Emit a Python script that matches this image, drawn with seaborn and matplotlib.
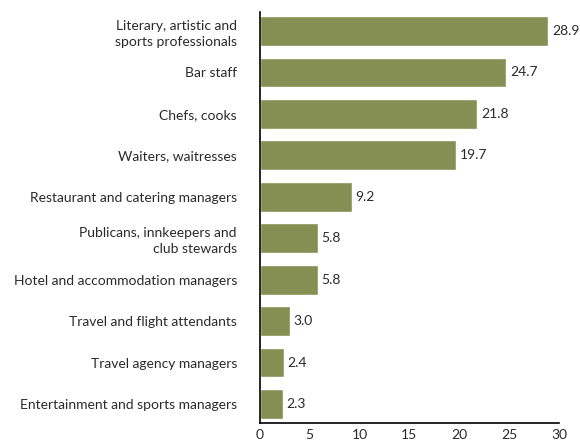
import pandas as pd
import matplotlib
matplotlib.use("Agg")
import matplotlib.pyplot as plt
import seaborn as sns

occupations = [
    "Literary, artistic and\nsports professionals",
    "Bar staff",
    "Chefs, cooks",
    "Waiters, waitresses",
    "Restaurant and catering managers",
    "Publicans, innkeepers and\nclub stewards",
    "Hotel and accommodation managers",
    "Travel and flight attendants",
    "Travel agency managers",
    "Entertainment and sports managers",
]
values = [28.9, 24.7, 21.8, 19.7, 9.2, 5.8, 5.8, 3.0, 2.4, 2.3]
x_ticks = [0, 5, 10, 15, 20, 25, 30]

df = pd.DataFrame({"occupation": occupations, "value": values})

sns.set_style("white")
plt.rcParams["font.family"] = ["Lato", "DejaVu Sans"]

fig = plt.figure(figsize=(5.8, 4.43), dpi=100)
ax = fig.add_axes([0.448, 0.045, 0.516, 0.928])

sns.barplot(data=df, x="value", y="occupation", color="#858F53",
            saturation=1, width=0.72, ax=ax)

for i, v in enumerate(values):
    ax.text(v + 0.4, i, f"{v:.1f}", va="center", ha="left",
            fontsize=10, color="#2a2a2a")

ax.set_xlim(0, 30)
ax.set_ylim(9.46, -0.46)
ax.set_xticks(x_ticks)
ax.set_xlabel("")
ax.set_ylabel("")
sns.despine(ax=ax, top=True, right=True)
for s in ["left", "bottom"]:
    ax.spines[s].set_color("black")
    ax.spines[s].set_linewidth(1.2)
ax.tick_params(axis="x", direction="in", length=8, width=1.2, labelsize=10,
               pad=4, colors="black", labelcolor="#2a2a2a")
ax.tick_params(axis="y", length=0, labelsize=10, pad=16.5, labelcolor="#2a2a2a")
for lbl in ax.get_yticklabels():
    lbl.set_linespacing(1.4)

fig.savefig("out.png", dpi=100)
